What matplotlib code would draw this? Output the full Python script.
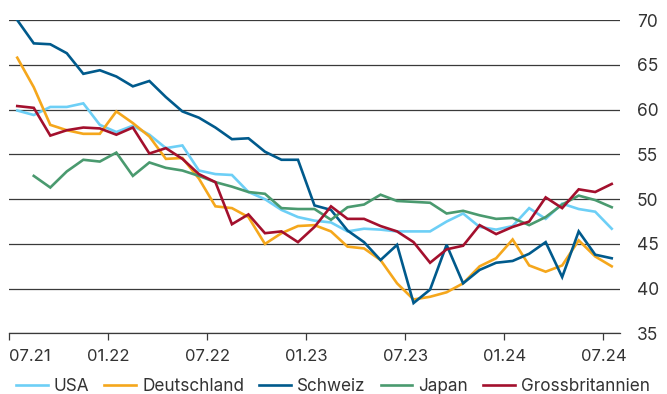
import numpy as np
import matplotlib
matplotlib.use('Agg')
import matplotlib.pyplot as plt

### Data (monthly, 07.21 - 07.24)
tick_labels = ['07.21', '01.22', '07.22', '01.23', '07.23', '01.24', '07.24']

usa = [59.9, 59.4, 60.3, 60.3, 60.7, 58.3, 57.5, 58.2, 57.2, 55.7, 56.0, 53.2, 52.8,
       52.7, 50.8, 50.0, 48.8, 48.0, 47.6, 47.4, 46.4, 46.7, 46.6, 46.4, 46.4,
       46.4, 47.5, 48.4, 46.9, 46.6, 47.0, 49.0, 47.8, 49.5, 48.9, 48.6, 46.7]
deutschland = [65.8, 62.5, 58.3, 57.7, 57.3, 57.3, 59.8, 58.5, 57.0, 54.5, 54.6, 52.3, 49.2,
               49.0, 48.0, 45.0, 46.2, 47.0, 47.1, 46.4, 44.7, 44.5, 43.2, 40.6, 38.8,
               39.1, 39.6, 40.6, 42.5, 43.4, 45.5, 42.6, 41.9, 42.6, 45.4, 43.6, 42.5]
schweiz = [70.0, 67.4, 67.3, 66.3, 64.0, 64.4, 63.7, 62.6, 63.2, 61.4, 59.8, 59.1, 58.0,
           56.7, 56.8, 55.3, 54.4, 54.4, 49.3, 48.8, 46.5, 45.2, 43.2, 44.9, 38.4,
           39.9, 44.9, 40.6, 42.1, 42.9, 43.1, 43.9, 45.2, 41.3, 46.4, 43.8, 43.4]
japan = [np.nan, 52.6, 51.3, 53.1, 54.4, 54.2, 55.2, 52.6, 54.1, 53.5, 53.2, 52.6, 51.9,
         51.4, 50.8, 50.6, 49.0, 48.9, 48.9, 47.7, 49.1, 49.4, 50.5, 49.8, 49.7,
         49.6, 48.4, 48.7, 48.2, 47.8, 47.9, 47.1, 48.0, 49.4, 50.4, 49.9, 49.1]
grossbritannien = [60.4, 60.2, 57.1, 57.7, 58.0, 57.9, 57.2, 58.0, 55.1, 55.7, 54.5, 52.8, 51.9,
                   47.2, 48.3, 46.2, 46.4, 45.2, 46.9, 49.2, 47.8, 47.8, 47.0, 46.4, 45.2,
                   42.9, 44.4, 44.8, 47.1, 46.1, 46.9, 47.5, 50.2, 49.0, 51.1, 50.8, 51.7]

series = [('USA', usa, '#6dcff6'),
          ('Deutschland', deutschland, '#f5a71c'),
          ('Schweiz', schweiz, '#005a8c'),
          ('Japan', japan, '#4a9a6f'),
          ('Grossbritannien', grossbritannien, '#a3102d')]

plt.rcParams['font.family'] = ['Inter', 'DejaVu Sans']
txt = '#333333'

### Figure
fig = plt.figure(figsize=(6.67, 3.94), dpi=100)
ax = fig.add_axes([0.0135, 0.1536, 0.916, 0.7954])

x = np.arange(len(usa))
for name, vals, col in series:
    ax.plot(x, vals, color=col, linewidth=1.9, label=name, solid_joinstyle='miter')

ax.set_xlim(-0.5, 36.5)
ax.set_ylim(35, 70)
ax.set_yticks(np.arange(35, 71, 5))
ax.yaxis.tick_right()
ax.grid(axis='y', color='#3a3a3a', linewidth=0.9)
ax.set_axisbelow(True)
ax.tick_params(axis='y', length=0, pad=12, labelsize=12.5, labelcolor=txt)

ax.set_xticks(np.arange(-0.5, 37, 6))
ax.set_xticklabels(tick_labels)
ax.tick_params(axis='x', length=5, width=0.9, color='#3a3a3a', pad=6,
               labelsize=12, labelcolor=txt)
ax.get_xticklabels()[0].set_horizontalalignment('left')  # first label starts at the tick

for s in ['top', 'left', 'right']:
    ax.spines[s].set_visible(False)
ax.spines['bottom'].set_color('#3a3a3a')
ax.spines['bottom'].set_linewidth(0.9)

# legend below the plot
fig.legend(loc='center left', bbox_to_anchor=(0.024, 0.02), ncol=5, frameon=False,
           fontsize=12.35, handlelength=1.85, handletextpad=0.35, columnspacing=0.88,
           labelcolor=txt, borderaxespad=0, borderpad=0)

fig.savefig('out.png', dpi=100)
